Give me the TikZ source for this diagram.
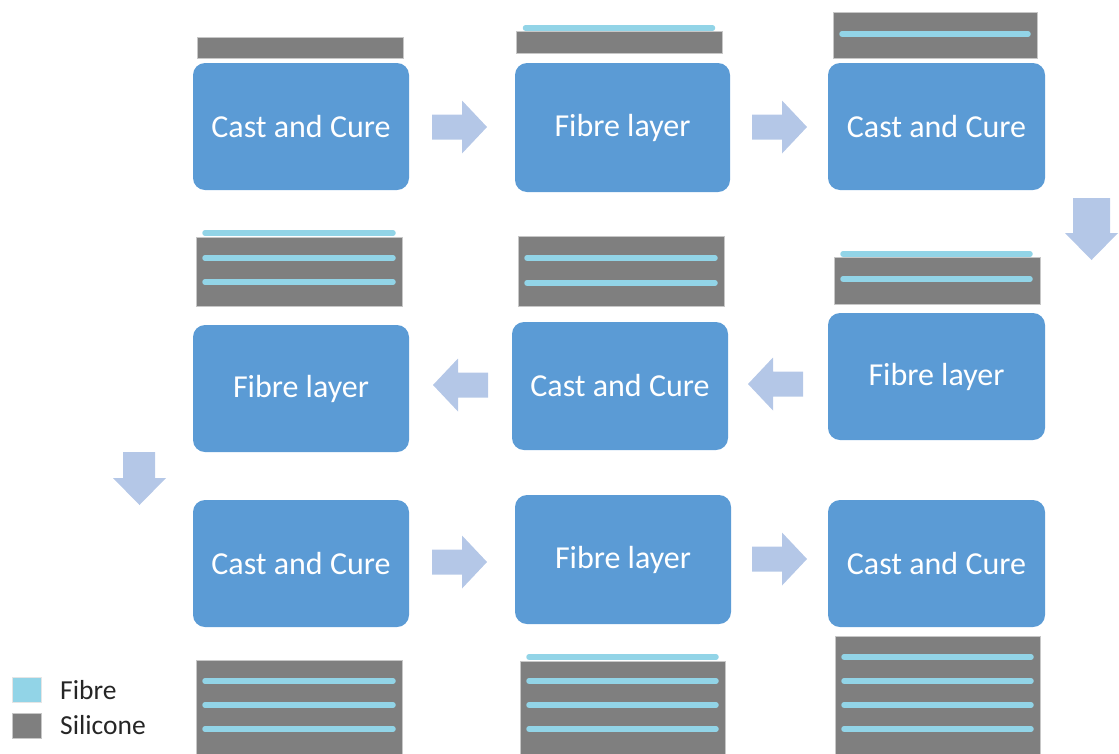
\documentclass[tikz,border=0pt]{standalone}
\usepackage{fontspec}
\setmainfont{Carlito}
\definecolor{boxblue}{HTML}{5B9BD5}
\definecolor{arrowblue}{HTML}{B4C7E7}
\definecolor{sil}{HTML}{7F7F7F}
\definecolor{fib}{HTML}{92D4E7}
\definecolor{legtext}{HTML}{262626}
\tikzset{
  box/.style={fill=boxblue, rounded corners=12pt, text=white, font=\fontsize{32}{38}\selectfont, inner sep=0pt, minimum width=216pt, minimum height=127pt},
  silbar/.style={fill=sil, draw=black!22, line width=0.8pt},
  fibline/.style={draw=fib, line width=5.5pt, line cap=round},
  legtxt/.style={text=legtext, font=\fontsize{27.5}{32}\selectfont, inner sep=0pt, anchor=west},
  rarrow/.pic={\fill[arrowblue] (0,-12.5) -- (30,-12.5) -- (30,-26.5) -- (55,0) -- (30,26.5) -- (30,12.5) -- (0,12.5) -- cycle;}
}
\begin{document}
\begin{tikzpicture}[x=1pt,y=-1pt]
\useasboundingbox (0,0) rectangle (1119,753);
% process boxes
\node[box] (b1) at (301,126.5) {Cast and Cure};
\node[box, minimum width=215pt, minimum height=129pt] (b2) at (622.5,127.5) {Fibre layer};
\node[box, minimum width=217pt] (b3) at (936.5,126.5) {Cast and Cure};
\node[box] (b4) at (301,388.5) {Fibre layer};
\node[box, minimum height=128pt] (b5) at (620,386) {Cast and Cure};
\node[box, minimum width=217pt] (b6) at (936.5,376.5) {Fibre layer};
\node[box] (b7) at (301,563.5) {Cast and Cure};
\node[box, minimum height=129pt] (b8) at (623,559.5) {Fibre layer};
\node[box, minimum width=217pt] (b9) at (936.5,563.5) {Cast and Cure};
% block arrows
\pic at (432,127) {rarrow};
\pic at (752,127) {rarrow};
\pic at (432,562) {rarrow};
\pic at (752,559) {rarrow};
\pic[rotate=180] at (488,385) {rarrow};
\pic[rotate=180] at (803,384) {rarrow};
\fill[arrowblue] (1073,198) -- (1110,198) -- (1110,233) -- (1118,233) -- (1091.5,260) -- (1065,233) -- (1073,233) -- cycle;
\fill[arrowblue] (123,452) -- (155,452) -- (155,478) -- (166,478) -- (139.5,505) -- (113,478) -- (123,478) -- cycle;
% silicone layers, row 1
\draw[silbar] (197,37) rectangle (403,58);
\draw[silbar] (516,31) rectangle (722,53);
\draw[fibline] (525.5,28) -- (712.5,28);
\draw[silbar] (833,12) rectangle (1037,58);
\draw[fibline] (842,34) -- (1028,34);
% row 2
\draw[silbar] (196,237) rectangle (402,306);
\draw[fibline] (205,233) -- (393,233);
\foreach \y in {258,282} \draw[fibline] (205,\y) -- (393,\y);
\draw[silbar] (518,236) rectangle (724,306);
\foreach \y in {258,283} \draw[fibline] (527,\y) -- (715,\y);
\draw[silbar] (834,257) rectangle (1040,304);
\draw[fibline] (843,254) -- (1030,254);
\draw[fibline] (843,279) -- (1030,279);
% row 3
\draw[silbar] (196,660) rectangle (402,758);
\foreach \y in {681,705,729} \draw[fibline] (205,\y) -- (393,\y);
\draw[silbar] (520,661) rectangle (725,758);
\draw[fibline] (529,657) -- (716,657);
\foreach \y in {681,705,729} \draw[fibline] (529,\y) -- (716,\y);
\draw[silbar] (835,636) rectangle (1040,758);
\foreach \y in {657,681,705,729} \draw[fibline] (844,\y) -- (1031,\y);
% legend
\draw[fill=fib, draw=black!10, line width=0.8pt] (12,677) rectangle (41,702);
\draw[fill=sil, draw=black!22, line width=0.8pt] (12,713) rectangle (41,738);
\node[legtxt] (lf) at (60,690) {Fibre};
\node[legtxt] (ls) at (60,725) {Silicone};
\end{tikzpicture}
\end{document}
